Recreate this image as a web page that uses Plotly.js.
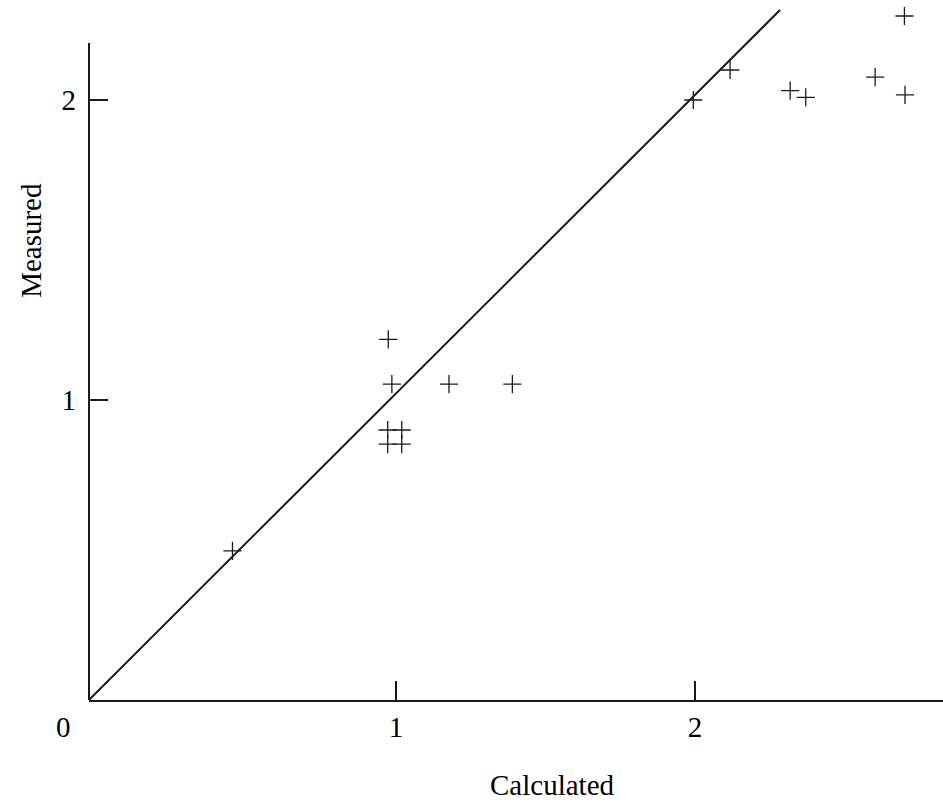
<!DOCTYPE html>
<html>
<head>
<meta charset="utf-8">
<script src="https://cdn.plot.ly/plotly-3.0.1.min.js"></script>
<style>html,body{margin:0;padding:0;background:#fff;}#chart{width:943px;height:804px;}</style>
</head>
<body>
<div id="chart"></div>
<script>
// Data
const calculated = [0.453, 0.974, 0.986, 1.177, 1.389, 0.972, 1.019, 0.972, 1.019, 1.994, 2.117, 2.318, 2.370, 2.602, 2.700, 2.702];
const measured   = [0.497, 1.202, 1.053, 1.053, 1.053, 0.900, 0.900, 0.853, 0.853, 2.000, 2.100, 2.031, 2.009, 2.076, 2.280, 2.017];
// Reference diagonal (calculated = measured)
const diagX = [-0.027, 2.284];
const diagY = [0, 2.30];
const tickVals = [1, 2];
const tickText = ["1", "2"];

const FONT = "Liberation Serif, Times New Roman, serif";
const INK = "#1a1a1a";
const FS = 29;

const traces = [
  {
    x: diagX, y: diagY, type: "scatter", mode: "lines",
    line: {color: INK, width: 2}, hoverinfo: "skip", showlegend: false
  },
  {
    x: calculated, y: measured, type: "scatter", mode: "markers",
    marker: {symbol: "cross-thin-open", size: 13, color: INK, line: {color: INK, width: 1.3}},
    cliponaxis: false, showlegend: false
  }
];

const layout = {
  width: 943, height: 804,
  margin: {l: 89, r: 0, t: 4, b: 104},
  paper_bgcolor: "#fff", plot_bgcolor: "#fff",
  font: {family: FONT, size: FS, color: "#000"},
  showlegend: false,
  xaxis: {
    range: [-0.0268, 2.829], showgrid: false, zeroline: false,
    showline: true, linecolor: INK, linewidth: 2,
    ticks: "inside", ticklen: 19, tickwidth: 2, tickcolor: INK,
    tickvals: tickVals, ticktext: tickText,
    tickfont: {family: FONT, size: FS, color: "#000"},
    ticklabelstandoff: 0
  },
  yaxis: {
    range: [0, 2.32], showgrid: false, zeroline: false,
    showline: false,
    ticks: "inside", ticklen: 19, tickwidth: 2, tickcolor: INK,
    tickvals: tickVals, ticktext: tickText,
    tickfont: {family: FONT, size: FS, color: "#000"},
    ticklabelstandoff: 12
  },
  shapes: [
    {type: "line", xref: "paper", yref: "y", x0: 0, x1: 0, y0: 0, y1: 2.19,
     line: {color: INK, width: 2}}
  ],
  annotations: [
    {text: "0", xref: "paper", yref: "paper", x: -0.0304, y: -0.0388,
     xanchor: "center", yanchor: "middle", showarrow: false,
     font: {family: FONT, size: FS, color: "#000"}},
    {text: "Calculated", xref: "paper", yref: "paper", x: 0.543, y: -0.122,
     xanchor: "center", yanchor: "middle", showarrow: false,
     font: {family: FONT, size: FS, color: "#000"}},
    {text: "Measured", xref: "paper", yref: "paper", x: -0.068, y: 0.661,
     xanchor: "center", yanchor: "middle", textangle: -90, showarrow: false,
     font: {family: FONT, size: FS, color: "#000"}}
  ]
};

Plotly.newPlot("chart", traces, layout, {displayModeBar: false, staticPlot: true});
</script>
</body>
</html>
